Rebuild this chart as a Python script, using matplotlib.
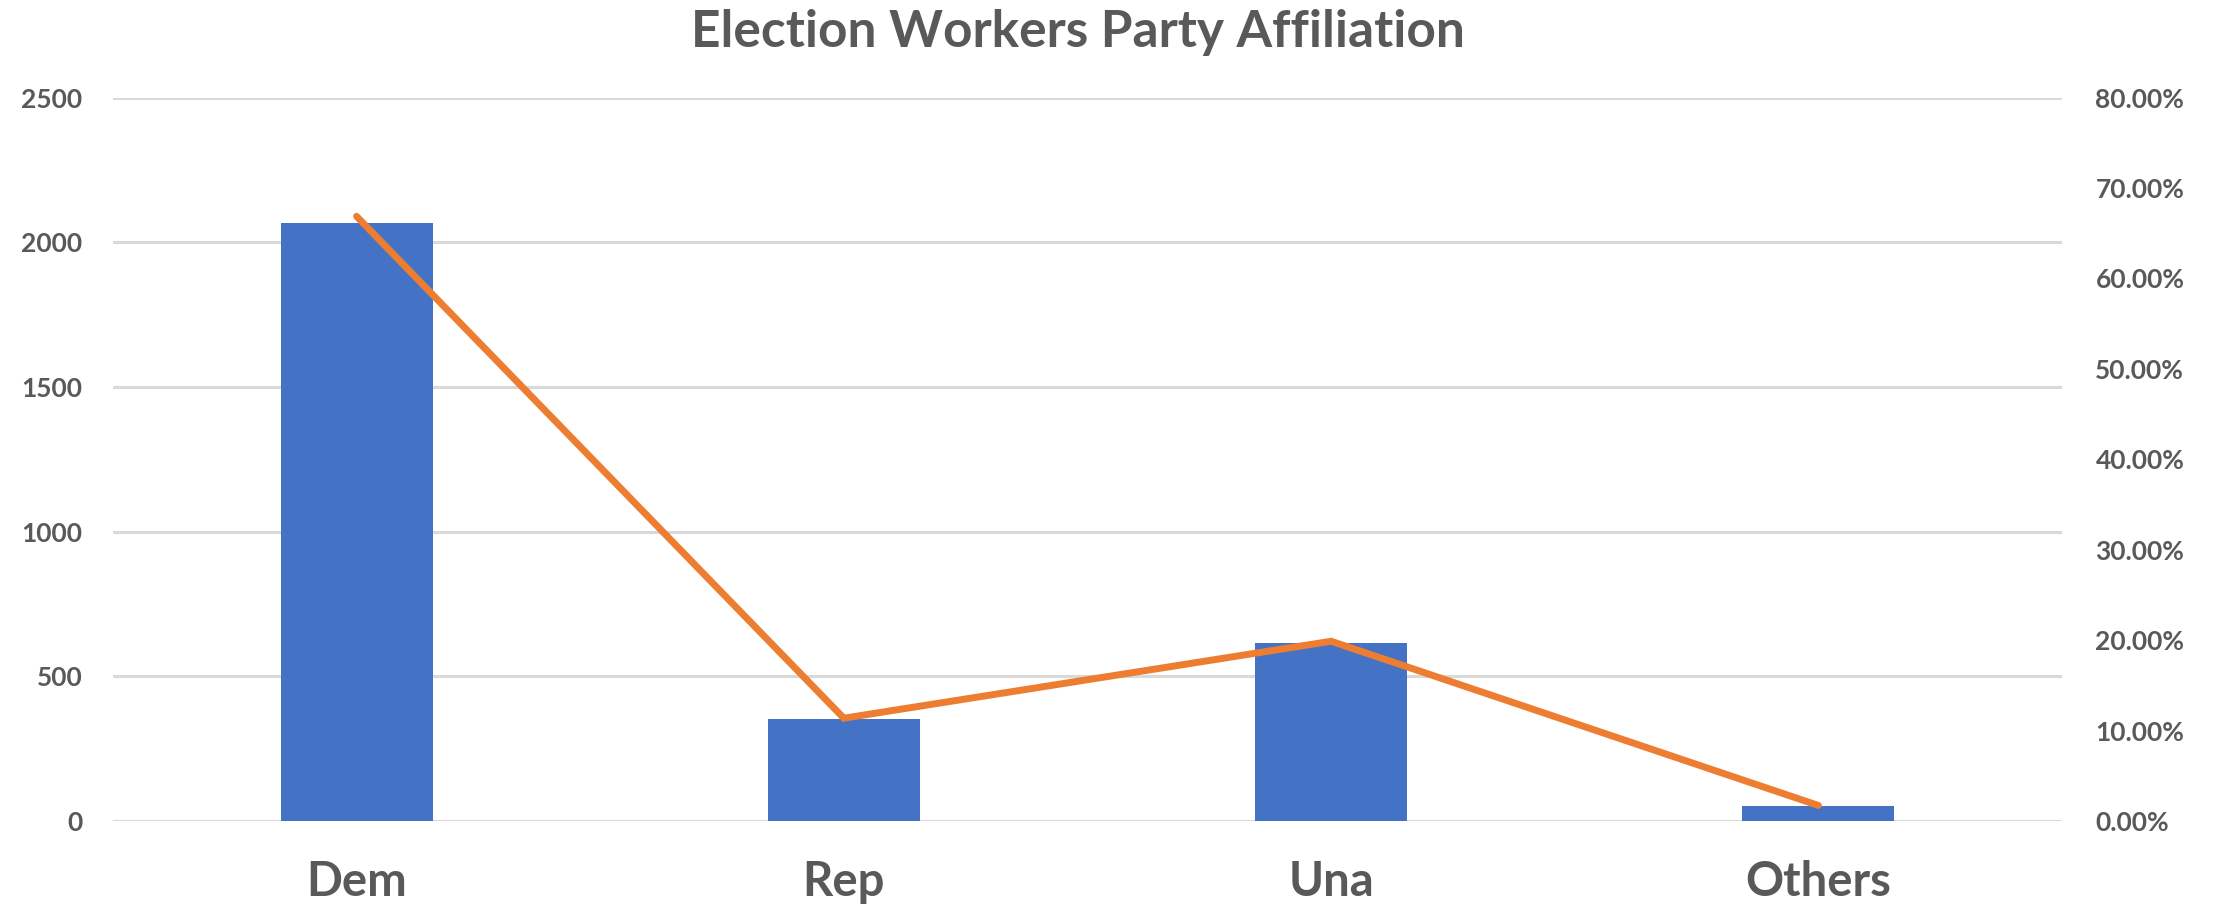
import numpy as np
import matplotlib.pyplot as plt
from matplotlib.ticker import FuncFormatter

### Election workers by party ###

categories = ['Dem', 'Rep', 'Una', 'Others']
counts = [2065, 351, 614, 53]
share_pct = [66.87, 11.37, 19.88, 1.72]   # share of all workers, in percent

left_ticks = [0, 500, 1000, 1500, 2000, 2500]
right_ticks = [0, 10, 20, 30, 40, 50, 60, 70, 80]

text_col = '#595959'
plt.rcParams['font.family'] = ['Lato', 'DejaVu Sans']

fig = plt.figure(figsize=(22.18, 9.07), dpi=100)
ax = fig.add_axes([0.0509, 0.0948, 0.8788, 0.7976])
ax2 = ax.twinx()

x = np.arange(len(categories))
ax.bar(x, counts, width=0.312, color='#4472C4', zorder=3)
ax.set_xlim(-0.5, 3.5)
ax.set_ylim(0, 2500)
ax.set_yticks(left_ticks)
ax.grid(axis='y', color='#D9D9D9', linewidth=2.2, zorder=0)
ax.set_axisbelow(True)

ax2.plot(x, share_pct, color='#ED7D31', linewidth=5, solid_capstyle='round',
         solid_joinstyle='miter', zorder=4)
ax2.set_ylim(0, 80)
ax2.set_yticks(right_ticks)
ax2.yaxis.set_major_formatter(FuncFormatter(lambda v, p: '{:.2f}%'.format(v)))

ax.set_xticks(x)
ax.set_xticklabels(categories, fontsize=34, fontweight='bold', color=text_col)
ax.tick_params(axis='x', length=0, pad=28)
ax.tick_params(axis='y', length=0, pad=22, labelsize=19, labelcolor=text_col)
ax2.tick_params(axis='y', length=0, pad=24, labelsize=19, labelcolor=text_col)
for t in ax.get_yticklabels() + ax2.get_yticklabels():
    t.set_fontweight('bold')

for a in (ax, ax2):
    for s in a.spines.values():
        s.set_visible(False)

fig.text(0.486, 0.964, 'Election Workers Party Affiliation', ha='center', va='center',
         fontsize=37, fontweight='bold', color=text_col)

fig.savefig('out.png', dpi=100)
